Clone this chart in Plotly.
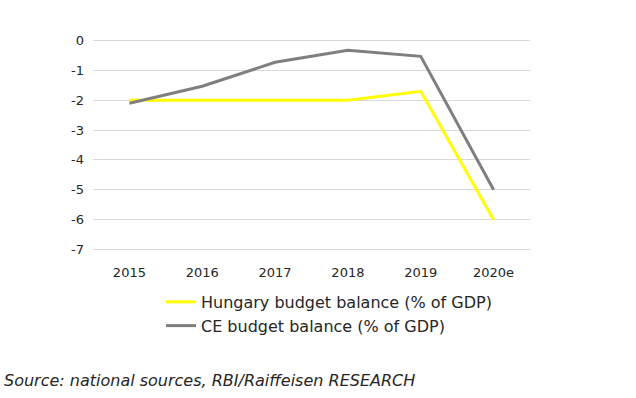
import plotly.graph_objects as go

years = ["2015", "2016", "2017", "2018", "2019", "2020e"]
hungary = [-2.0, -2.0, -2.0, -2.0, -1.7, -6.0]
ce = [-2.1, -1.53, -0.73, -0.33, -0.53, -5.0]
y_ticks = [0, -1, -2, -3, -4, -5, -6, -7]

font_family = "'DejaVu Sans', sans-serif"

fig = go.Figure()
fig.add_trace(go.Scatter(x=years, y=hungary, mode="lines",
                         name="Hungary budget balance (% of GDP)",
                         line=dict(color="#FFFF00", width=3)))
fig.add_trace(go.Scatter(x=years, y=ce, mode="lines",
                         name="CE budget balance (% of GDP)",
                         line=dict(color="#7F7F7F", width=3)))

fig.update_layout(
    width=636, height=398,
    margin=dict(l=93, r=106, t=39, b=147, autoexpand=False),
    paper_bgcolor="white", plot_bgcolor="white",
    font=dict(family=font_family, size=15, color="#262626"),
    showlegend=True,
    legend=dict(x=0.1556, y=-0.160, xanchor="left", yanchor="top",
                font=dict(size=16, color="#262626"), tracegroupgap=0,
                bgcolor="rgba(0,0,0,0)"),
    xaxis=dict(type="category", range=[-0.5, 5.5], showgrid=False, showline=False,
               ticks="", tickfont=dict(size=13), ticklabelstandoff=12),
    yaxis=dict(range=[-7.05, 0.05], tickvals=y_ticks, ticktext=[str(v) for v in y_ticks],
               showgrid=True, gridcolor="#D9D9D9", gridwidth=1, zeroline=False,
               showline=False, ticks="", tickfont=dict(size=13), ticklabelstandoff=8),
    annotations=[dict(text="<i>Source: national sources, RBI/Raiffeisen RESEARCH</i>",
                      xref="paper", yref="paper", x=-0.208, y=-0.613,
                      xanchor="left", yanchor="middle", showarrow=False,
                      font=dict(size=16, color="#262626"))],
)

fig.write_html("out.html", config={"displayModeBar": False},
               post_script="document.body.style.margin='0';")
